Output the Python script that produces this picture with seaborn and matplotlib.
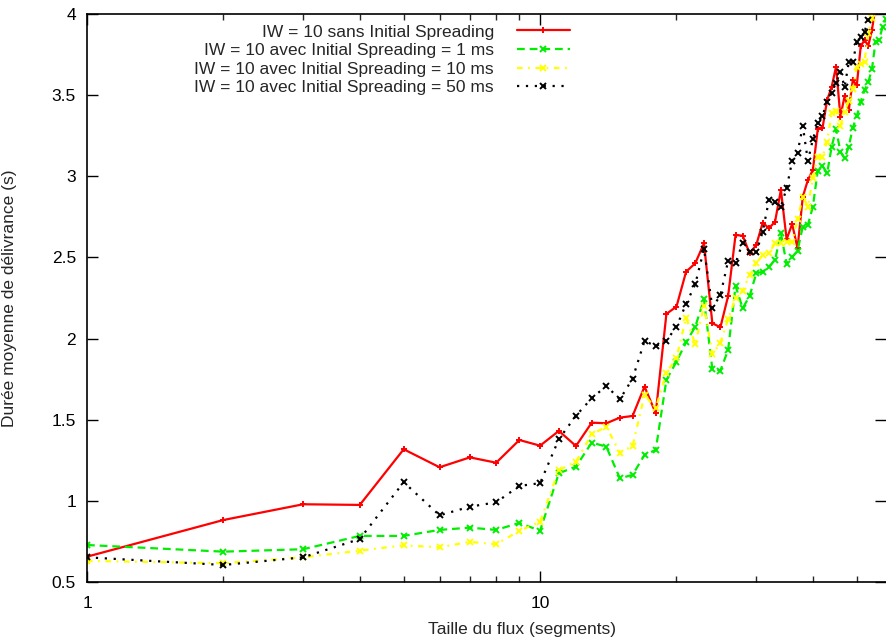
import numpy as np
import pandas as pd
import seaborn as sns
import matplotlib
matplotlib.use('Agg')
import matplotlib.pyplot as plt
from matplotlib.ticker import FixedLocator, NullFormatter

# taille du flux (segments)
sizes = list(range(1, 59))

sans_is = [0.656, 0.882, 0.979, 0.975, 1.318, 1.207, 1.268, 1.235, 1.375, 1.340,
           1.431, 1.338, 1.482, 1.478, 1.513, 1.523, 1.704, 1.540, 2.152, 2.197,
           2.412, 2.464, 2.587, 2.094, 2.070, 2.262, 2.638, 2.634, 2.525, 2.577,
           2.714, 2.680, 2.720, 2.916, 2.612, 2.706, 2.556, 2.874, 2.977, 3.039,
           3.290, 3.296, 3.470, 3.550, 3.676, 3.367, 3.495, 3.408, 3.593, 3.560,
           3.800, 3.840, 3.805, 3.900, 4.050, 4.120, 4.180, 4.250]
is_1ms = [0.728, 0.687, 0.702, 0.784, 0.784, 0.821, 0.835, 0.821, 0.864, 0.816,
          1.170, 1.211, 1.359, 1.334, 1.139, 1.160, 1.283, 1.314, 1.745, 1.858,
          1.977, 2.073, 2.242, 1.811, 1.803, 1.930, 2.324, 2.187, 2.262, 2.402,
          2.412, 2.443, 2.484, 2.649, 2.460, 2.501, 2.542, 2.690, 2.700, 2.813,
          3.035, 3.064, 3.018, 3.182, 3.290, 3.152, 3.111, 3.182, 3.300, 3.370,
          3.460, 3.530, 3.580, 3.660, 3.830, 3.840, 3.920, 3.970]
is_10ms = [0.630, 0.616, 0.652, 0.693, 0.726, 0.714, 0.747, 0.733, 0.815, 0.872,
           1.190, 1.241, 1.410, 1.457, 1.297, 1.338, 1.652, 1.571, 1.790, 1.882,
           2.129, 1.965, 2.201, 1.903, 1.975, 2.119, 2.252, 2.295, 2.392, 2.464,
           2.515, 2.525, 2.587, 2.591, 2.597, 2.597, 2.735, 2.874, 2.813, 2.987,
           3.121, 3.121, 3.213, 3.388, 3.404, 3.310, 3.398, 3.464, 3.540, 3.676,
           3.690, 3.706, 3.881, 3.973, 4.020, 4.050, 4.100, 4.150]
is_50ms = [0.652, 0.605, 0.652, 0.765, 1.115, 0.911, 0.964, 0.991, 1.092, 1.109,
           1.380, 1.525, 1.632, 1.708, 1.626, 1.753, 1.985, 1.954, 1.987, 2.073,
           2.213, 2.335, 2.552, 2.190, 2.267, 2.478, 2.464, 2.591, 2.536, 2.532,
           2.659, 2.854, 2.840, 2.813, 2.926, 3.094, 3.146, 3.310, 3.094, 3.228,
           3.327, 3.372, 3.460, 3.515, 3.577, 3.645, 3.550, 3.702, 3.702, 3.829,
           3.860, 3.891, 3.963, 4.050, 4.100, 4.150, 4.200, 4.250]

labels = ['IW = 10 sans Initial Spreading',
          'IW = 10 avec Initial Spreading = 1 ms',
          'IW = 10 avec Initial Spreading = 10 ms',
          'IW = 10 avec Initial Spreading = 50 ms']

sns.set_style('ticks')
plt.rcParams['font.family'] = ['Liberation Sans', 'DejaVu Sans']

fig = plt.figure(figsize=(8.86, 6.39), dpi=100)
ax = fig.add_axes([87 / 886, 57 / 639, 1 - 87 / 886, 568 / 639])

lw = 1.6
series = [(sans_is, '#ff0000', '+', 5, '-'),
          (is_1ms, '#00ee00', 'x', 4, (0, (3.5, 2.2))),
          (is_10ms, '#ffff00', 'x', 4, (0, (2.5, 2.5, 0.8, 2.5))),
          (is_50ms, 'black', 'x', 4, (0, (1, 3)))]
for (vals, col, mk, ms, ls), lab in zip(series, labels):
    sns.lineplot(x=sizes, y=vals, ax=ax, color=col, marker=mk, markersize=ms,
                 markeredgewidth=1.4, markeredgecolor=col, markerfacecolor=col,
                 linewidth=lw, label=lab)
for line, (_, _, _, _, ls) in zip(ax.lines, series):
    line.set_linestyle(ls)

ax.set_xscale('log')
ax.set_xlim(1, 58)
ax.set_ylim(0.5, 4)

ax.xaxis.set_major_locator(FixedLocator([1, 10]))
ax.set_xticklabels(['1', '10'])
ax.xaxis.set_minor_locator(FixedLocator(list(range(2, 10)) + list(range(20, 60, 10))))
ax.xaxis.set_minor_formatter(NullFormatter())
ax.set_yticks([0.5, 1, 1.5, 2, 2.5, 3, 3.5, 4])
ax.set_yticklabels(['0.5', '1', '1.5', '2', '2.5', '3', '3.5', '4'])
ax.tick_params(axis='both', which='major', direction='in', length=8, width=1,
               top=True, right=True, labelsize=12.5, colors='black')
ax.tick_params(axis='x', which='major', pad=10)
ax.tick_params(axis='y', which='major', pad=8)
ax.tick_params(axis='x', which='minor', direction='in', length=4, width=1,
               top=True)
for s in ['left', 'bottom', 'top']:
    ax.spines[s].set_linewidth(1.2)
    ax.spines[s].set_color('black')
ax.spines['right'].set_visible(False)

ax.set_xlabel('Taille du flux (segments)', fontsize=12.5)
ax.set_ylabel('Durée moyenne de délivrance (s)', fontsize=12.5)
ax.xaxis.set_label_coords(0.544, -0.071)
ax.yaxis.set_label_coords(-0.087, 0.5)

ax.legend(loc='upper right', bbox_to_anchor=(0.618, 1.0), frameon=False,
          markerfirst=False, fontsize=12.5, handlelength=3.1, numpoints=1,
          labelspacing=0.2, handletextpad=1.3, borderaxespad=0.2)

fig.savefig('out.png', dpi=100)
